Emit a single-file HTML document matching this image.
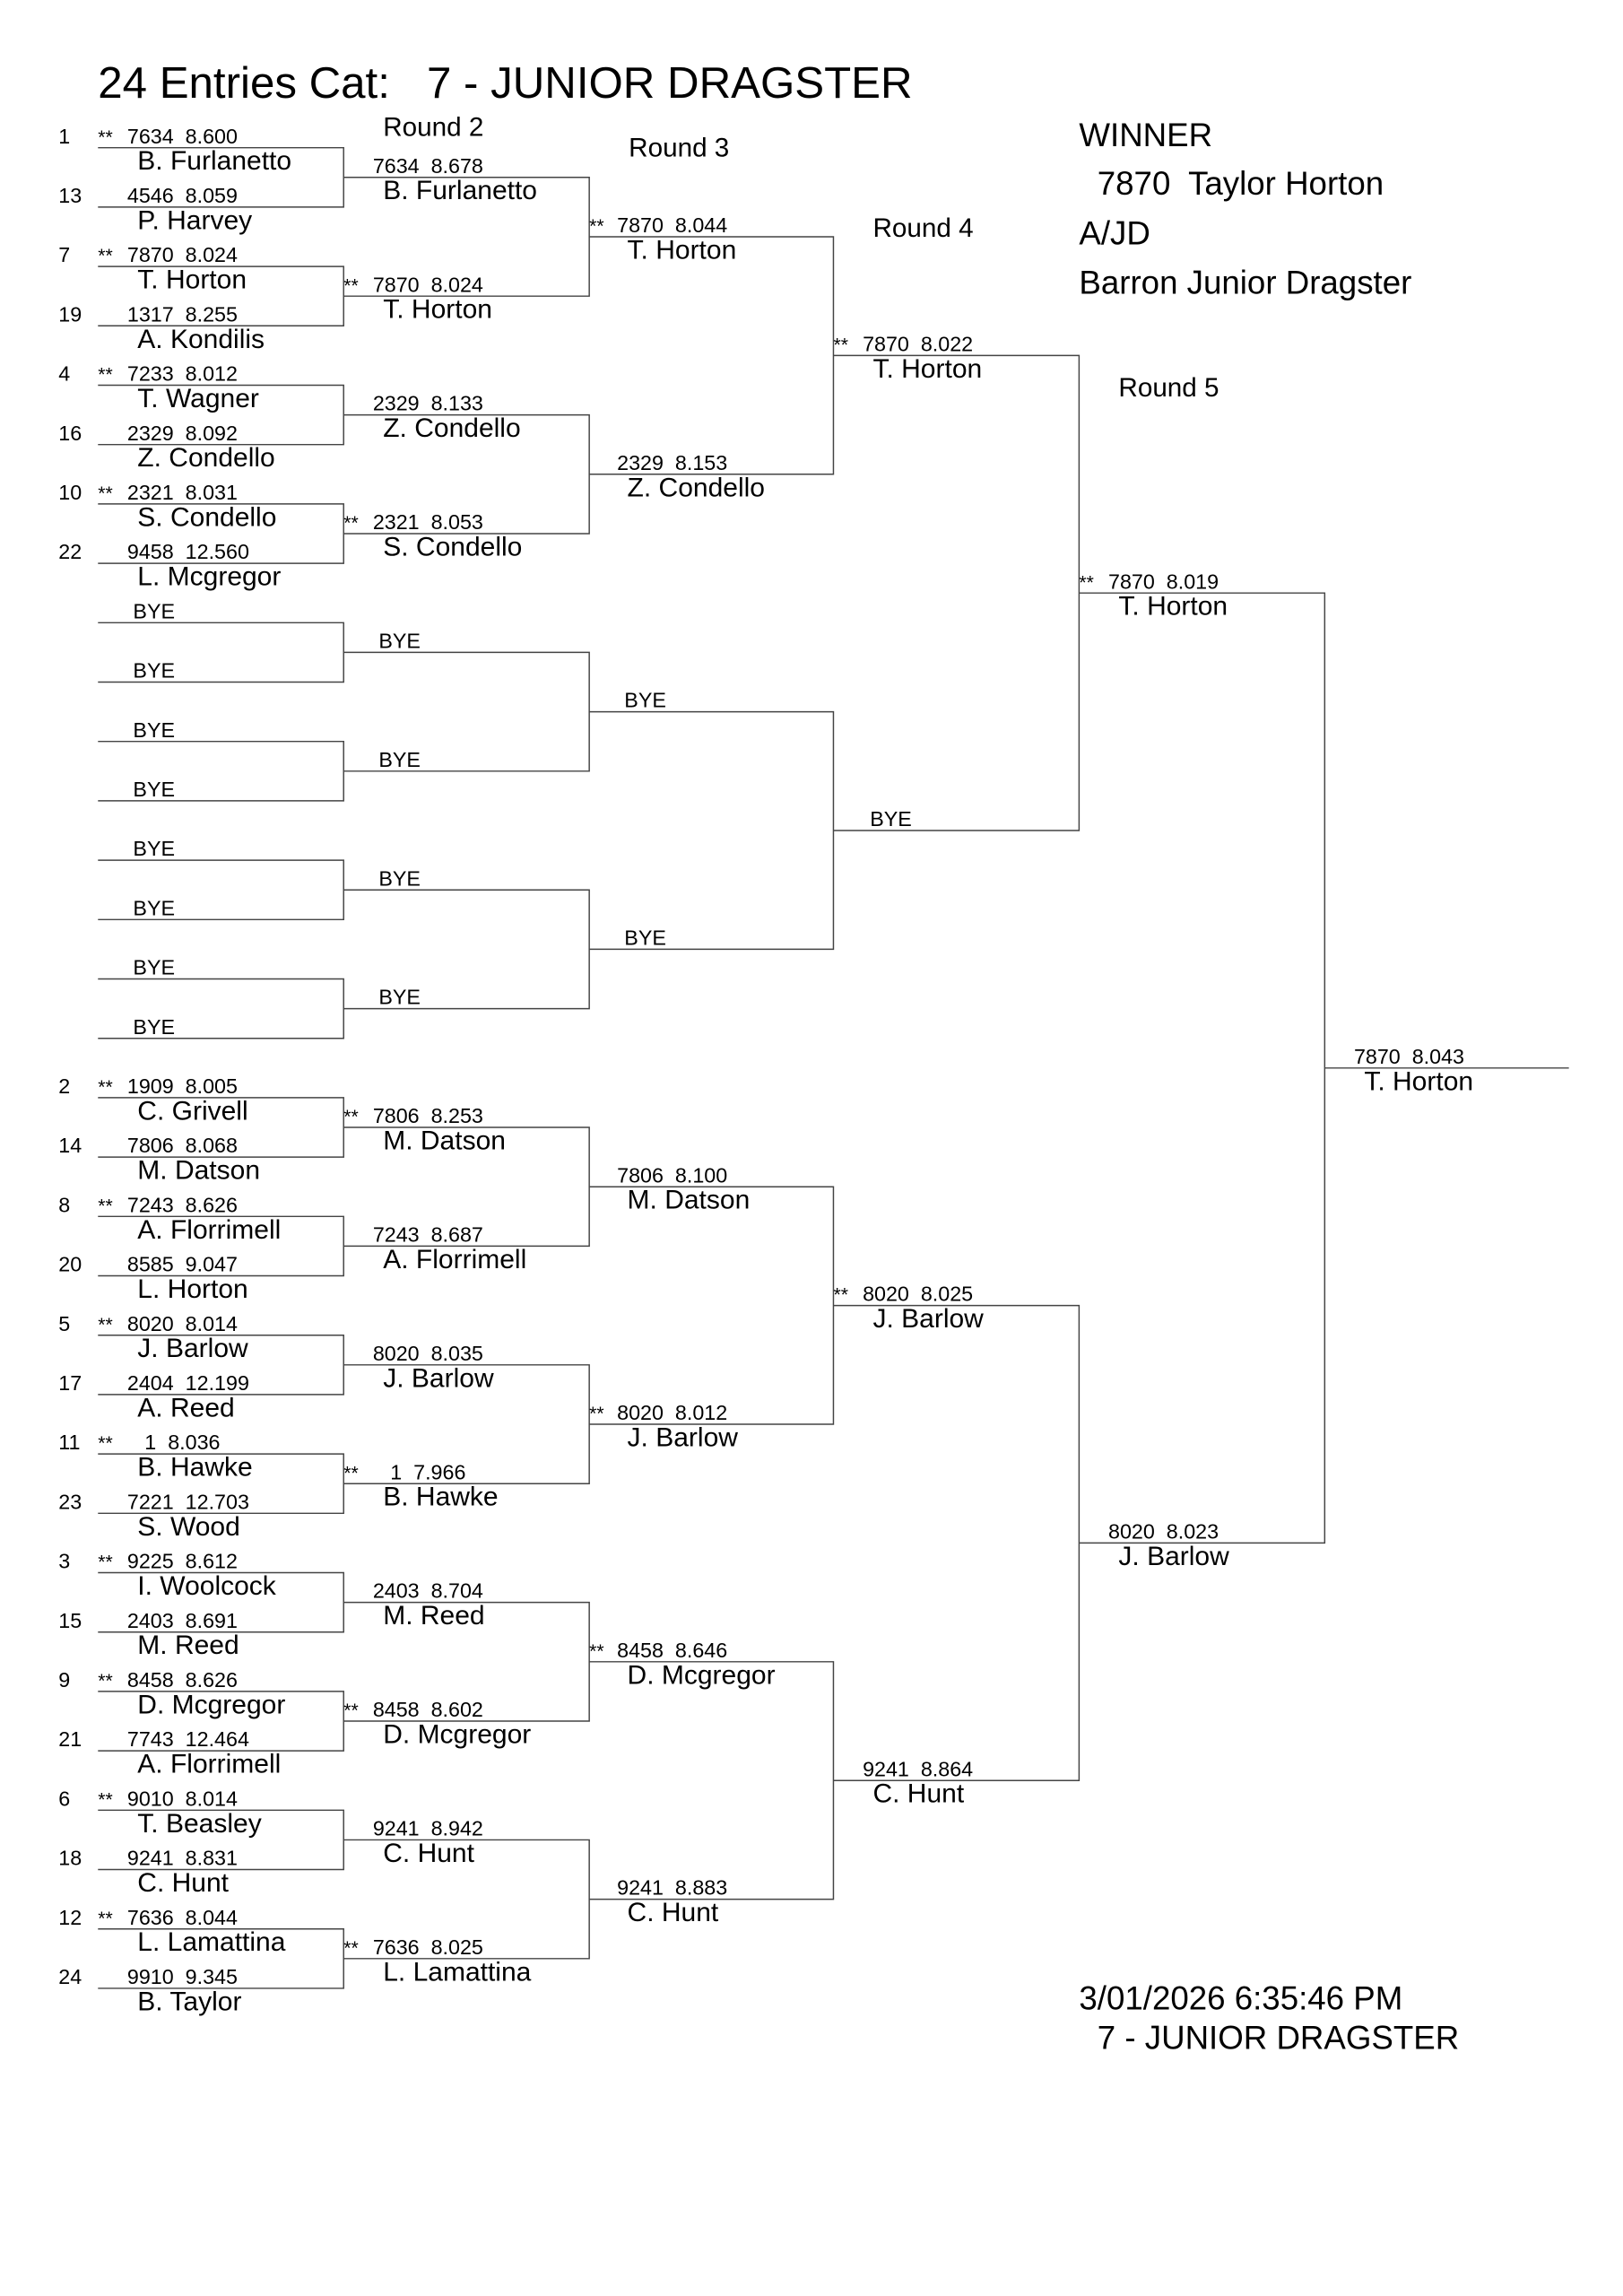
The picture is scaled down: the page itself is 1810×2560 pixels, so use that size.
<!DOCTYPE html>
<html><head><meta charset="utf-8"><style>
html,body{margin:0;padding:0;background:#fff}
svg{display:block}
text{font-family:"Liberation Sans",Arial,sans-serif;fill:#000;white-space:pre}
.n{font-size:14.3px}
.m{font-size:18.4px}
.s{font-size:13px}
.h{font-size:18.2px}
.w{font-size:22.5px}
</style></head><body>
<svg width="1810" height="2560" viewBox="0 0 1110 1570" xmlns="http://www.w3.org/2000/svg">
<g fill="none" stroke="#444" stroke-width="0.9">
<path d="M67 101H235V141.6H67 M67 182.2H235V222.8H67 M67 263.4H235V304H67 M67 344.6H235V385.2H67 M67 425.8H235V466.4H67 M67 507H235V547.6H67 M67 588.2H235V628.8H67 M67 669.4H235V710H67 M67 750.6H235V791.2H67 M67 831.8H235V872.4H67 M67 913H235V953.6H67 M67 994.2H235V1034.8H67 M67 1075.4H235V1116H67 M67 1156.6H235V1197.2H67 M67 1237.8H235V1278.4H67 M67 1319H235V1359.6H67"/>
<path d="M235 121.3H403V202.5H235 M235 283.7H403V364.9H235 M235 446.1H403V527.3H235 M235 608.5H403V689.7H235 M235 770.9H403V852.1H235 M235 933.3H403V1014.5H235 M235 1095.7H403V1176.9H235 M235 1258.1H403V1339.3H235"/>
<path d="M403 161.9H570V324.3H403 M403 486.7H570V649.1H403 M403 811.5H570V973.9H403 M403 1136.3H570V1298.7H403"/>
<path d="M570 243.1H738V567.9H570 M570 892.7H738V1217.5H570"/>
<path d="M738 405.5H906V1055.1H738"/>
<path d="M906 730.3H1073"/>
</g>

<text x="67" y="67" style="font-size:30.2px">24 Entries Cat:   7 - JUNIOR DRAGSTER</text>
<text class="h" x="262" y="93">Round 2</text>
<text class="h" x="430" y="107">Round 3</text>
<text class="h" x="597" y="162">Round 4</text>
<text class="h" x="765" y="271">Round 5</text>
<text class="w" x="738" y="100">WINNER</text>
<text class="w" x="738" y="133">  7870  Taylor Horton</text>
<text class="w" x="738" y="167">A/JD</text>
<text class="w" x="738" y="201">Barron Junior Dragster</text>
<text class="w" x="738" y="1374">3/01/2026 6:35:46 PM</text>
<text class="w" x="738" y="1401">  7 - JUNIOR DRAGSTER</text>

<g>
<text class="n" x="40" y="98">1</text><text class="s" x="67" y="98">**</text><text class="n" x="87" y="98">7634  8.600</text><text class="m" x="94" y="116">B. Furlanetto</text>
<text class="n" x="40" y="138.6">13</text><text class="n" x="87" y="138.6">4546  8.059</text><text class="m" x="94" y="156.6">P. Harvey</text>
<text class="n" x="40" y="179.2">7</text><text class="s" x="67" y="179.2">**</text><text class="n" x="87" y="179.2">7870  8.024</text><text class="m" x="94" y="197.2">T. Horton</text>
<text class="n" x="40" y="219.8">19</text><text class="n" x="87" y="219.8">1317  8.255</text><text class="m" x="94" y="237.8">A. Kondilis</text>
<text class="n" x="40" y="260.4">4</text><text class="s" x="67" y="260.4">**</text><text class="n" x="87" y="260.4">7233  8.012</text><text class="m" x="94" y="278.4">T. Wagner</text>
<text class="n" x="40" y="301">16</text><text class="n" x="87" y="301">2329  8.092</text><text class="m" x="94" y="319">Z. Condello</text>
<text class="n" x="40" y="341.6">10</text><text class="s" x="67" y="341.6">**</text><text class="n" x="87" y="341.6">2321  8.031</text><text class="m" x="94" y="359.6">S. Condello</text>
<text class="n" x="40" y="382.2">22</text><text class="n" x="87" y="382.2">9458  12.560</text><text class="m" x="94" y="400.2">L. Mcgregor</text>
<text class="n" x="91" y="422.8">BYE</text>
<text class="n" x="91" y="463.4">BYE</text>
<text class="n" x="91" y="504">BYE</text>
<text class="n" x="91" y="544.6">BYE</text>
<text class="n" x="91" y="585.2">BYE</text>
<text class="n" x="91" y="625.8">BYE</text>
<text class="n" x="91" y="666.4">BYE</text>
<text class="n" x="91" y="707">BYE</text>
<text class="n" x="40" y="747.6">2</text><text class="s" x="67" y="747.6">**</text><text class="n" x="87" y="747.6">1909  8.005</text><text class="m" x="94" y="765.6">C. Grivell</text>
<text class="n" x="40" y="788.2">14</text><text class="n" x="87" y="788.2">7806  8.068</text><text class="m" x="94" y="806.2">M. Datson</text>
<text class="n" x="40" y="828.8">8</text><text class="s" x="67" y="828.8">**</text><text class="n" x="87" y="828.8">7243  8.626</text><text class="m" x="94" y="846.8">A. Florrimell</text>
<text class="n" x="40" y="869.4">20</text><text class="n" x="87" y="869.4">8585  9.047</text><text class="m" x="94" y="887.4">L. Horton</text>
<text class="n" x="40" y="910">5</text><text class="s" x="67" y="910">**</text><text class="n" x="87" y="910">8020  8.014</text><text class="m" x="94" y="928">J. Barlow</text>
<text class="n" x="40" y="950.6">17</text><text class="n" x="87" y="950.6">2404  12.199</text><text class="m" x="94" y="968.6">A. Reed</text>
<text class="n" x="40" y="991.2">11</text><text class="s" x="67" y="991.2">**</text><text class="n" x="87" y="991.2">   1  8.036</text><text class="m" x="94" y="1009.2">B. Hawke</text>
<text class="n" x="40" y="1031.8">23</text><text class="n" x="87" y="1031.8">7221  12.703</text><text class="m" x="94" y="1049.8">S. Wood</text>
<text class="n" x="40" y="1072.4">3</text><text class="s" x="67" y="1072.4">**</text><text class="n" x="87" y="1072.4">9225  8.612</text><text class="m" x="94" y="1090.4">I. Woolcock</text>
<text class="n" x="40" y="1113">15</text><text class="n" x="87" y="1113">2403  8.691</text><text class="m" x="94" y="1131">M. Reed</text>
<text class="n" x="40" y="1153.6">9</text><text class="s" x="67" y="1153.6">**</text><text class="n" x="87" y="1153.6">8458  8.626</text><text class="m" x="94" y="1171.6">D. Mcgregor</text>
<text class="n" x="40" y="1194.2">21</text><text class="n" x="87" y="1194.2">7743  12.464</text><text class="m" x="94" y="1212.2">A. Florrimell</text>
<text class="n" x="40" y="1234.8">6</text><text class="s" x="67" y="1234.8">**</text><text class="n" x="87" y="1234.8">9010  8.014</text><text class="m" x="94" y="1252.8">T. Beasley</text>
<text class="n" x="40" y="1275.4">18</text><text class="n" x="87" y="1275.4">9241  8.831</text><text class="m" x="94" y="1293.4">C. Hunt</text>
<text class="n" x="40" y="1316">12</text><text class="s" x="67" y="1316">**</text><text class="n" x="87" y="1316">7636  8.044</text><text class="m" x="94" y="1334">L. Lamattina</text>
<text class="n" x="40" y="1356.6">24</text><text class="n" x="87" y="1356.6">9910  9.345</text><text class="m" x="94" y="1374.6">B. Taylor</text>
</g>

<g>
<text class="n" x="255" y="118.3">7634  8.678</text><text class="m" x="262" y="136.3">B. Furlanetto</text>
<text class="s" x="235" y="199.5">**</text><text class="n" x="255" y="199.5">7870  8.024</text><text class="m" x="262" y="217.5">T. Horton</text>
<text class="n" x="255" y="280.7">2329  8.133</text><text class="m" x="262" y="298.7">Z. Condello</text>
<text class="s" x="235" y="361.9">**</text><text class="n" x="255" y="361.9">2321  8.053</text><text class="m" x="262" y="379.9">S. Condello</text>
<text class="n" x="259" y="443.1">BYE</text>
<text class="n" x="259" y="524.3">BYE</text>
<text class="n" x="259" y="605.5">BYE</text>
<text class="n" x="259" y="686.7">BYE</text>
<text class="s" x="235" y="767.9">**</text><text class="n" x="255" y="767.9">7806  8.253</text><text class="m" x="262" y="785.9">M. Datson</text>
<text class="n" x="255" y="849.1">7243  8.687</text><text class="m" x="262" y="867.1">A. Florrimell</text>
<text class="n" x="255" y="930.3">8020  8.035</text><text class="m" x="262" y="948.3">J. Barlow</text>
<text class="s" x="235" y="1011.5">**</text><text class="n" x="255" y="1011.5">   1  7.966</text><text class="m" x="262" y="1029.5">B. Hawke</text>
<text class="n" x="255" y="1092.7">2403  8.704</text><text class="m" x="262" y="1110.7">M. Reed</text>
<text class="s" x="235" y="1173.9">**</text><text class="n" x="255" y="1173.9">8458  8.602</text><text class="m" x="262" y="1191.9">D. Mcgregor</text>
<text class="n" x="255" y="1255.1">9241  8.942</text><text class="m" x="262" y="1273.1">C. Hunt</text>
<text class="s" x="235" y="1336.3">**</text><text class="n" x="255" y="1336.3">7636  8.025</text><text class="m" x="262" y="1354.3">L. Lamattina</text>
</g>

<g>
<text class="s" x="403" y="158.9">**</text><text class="n" x="422" y="158.9">7870  8.044</text><text class="m" x="429" y="176.9">T. Horton</text>
<text class="n" x="422" y="321.3">2329  8.153</text><text class="m" x="429" y="339.3">Z. Condello</text>
<text class="n" x="427" y="483.7">BYE</text>
<text class="n" x="427" y="646.1">BYE</text>
<text class="n" x="422" y="808.5">7806  8.100</text><text class="m" x="429" y="826.5">M. Datson</text>
<text class="s" x="403" y="970.9">**</text><text class="n" x="422" y="970.9">8020  8.012</text><text class="m" x="429" y="988.9">J. Barlow</text>
<text class="s" x="403" y="1133.3">**</text><text class="n" x="422" y="1133.3">8458  8.646</text><text class="m" x="429" y="1151.3">D. Mcgregor</text>
<text class="n" x="422" y="1295.7">9241  8.883</text><text class="m" x="429" y="1313.7">C. Hunt</text>
</g>

<g>
<text class="s" x="570" y="240.1">**</text><text class="n" x="590" y="240.1">7870  8.022</text><text class="m" x="597" y="258.1">T. Horton</text>
<text class="n" x="595" y="564.9">BYE</text>
<text class="s" x="570" y="889.7">**</text><text class="n" x="590" y="889.7">8020  8.025</text><text class="m" x="597" y="907.7">J. Barlow</text>
<text class="n" x="590" y="1214.5">9241  8.864</text><text class="m" x="597" y="1232.5">C. Hunt</text>
</g>

<g>
<text class="s" x="738" y="402.5">**</text><text class="n" x="758" y="402.5">7870  8.019</text><text class="m" x="765" y="420.5">T. Horton</text>
<text class="n" x="758" y="1052.1">8020  8.023</text><text class="m" x="765" y="1070.1">J. Barlow</text>
</g>

<text class="n" x="926" y="727.3">7870  8.043</text><text class="m" x="933" y="745.3">T. Horton</text>
</svg>
</body></html>
